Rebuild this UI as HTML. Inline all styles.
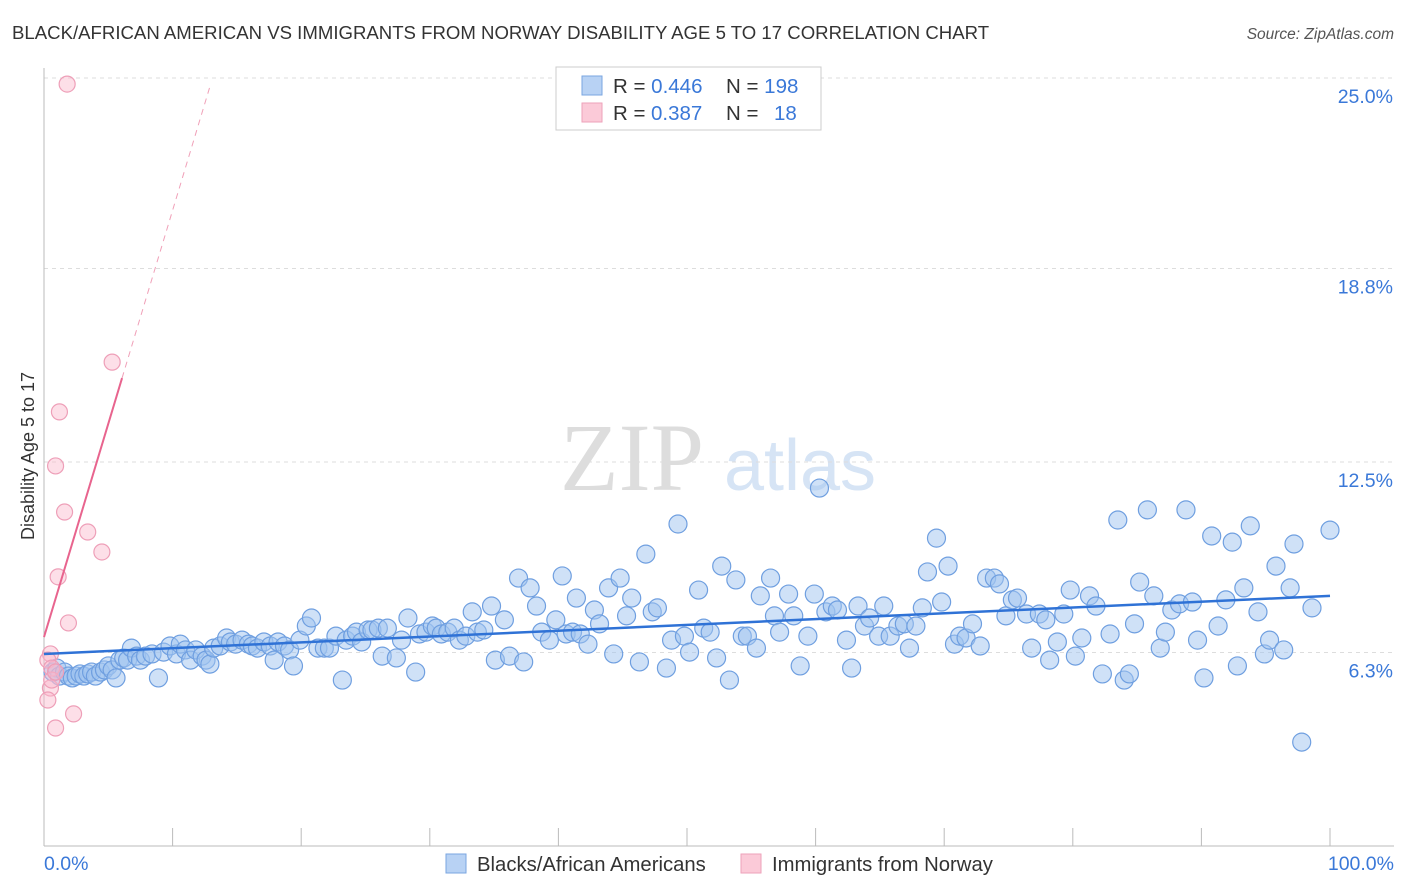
<!DOCTYPE html>
<html><head><meta charset="utf-8"><style>
body{margin:0;background:#fff;font-family:"Liberation Sans",sans-serif;}
svg{display:block}
</style></head><body>
<svg id="chart" width="1406" height="892" xmlns="http://www.w3.org/2000/svg">
<text x="12" y="39" font-size="18.6" fill="#333">BLACK/AFRICAN AMERICAN VS IMMIGRANTS FROM NORWAY DISABILITY AGE 5 TO 17 CORRELATION CHART</text>
<text x="1394" y="39" font-size="15.5" fill="#555" font-style="italic" text-anchor="end">Source: ZipAtlas.com</text>
<g>
<text x="632" y="490" font-size="96" font-family="Liberation Serif,serif" fill="#ddd" text-anchor="middle">ZIP</text>
<text x="800" y="490" font-size="72" fill="#d6e4f5" text-anchor="middle">atlas</text>
</g>
<g id="grid"></g>
<g id="axes"></g>
<g id="pts"></g>
<g id="lines"></g>
<text transform="translate(34,456) rotate(-90)" font-size="18" fill="#333" text-anchor="middle">Disability Age 5 to 17</text>
<text x="44" y="870" font-size="19.5" fill="#3a78d8">0.0%</text>
<text x="1394" y="870" font-size="19.5" fill="#3a78d8" text-anchor="end">100.0%</text>
<g>
<rect x="556" y="67" width="265" height="63" fill="#fff" stroke="#ccc"/>
<rect x="582" y="76" width="20" height="19" fill="#b8d2f4" stroke="#7aa6e0"/>
<rect x="582" y="103" width="20" height="19" fill="#fbcad8" stroke="#eea2ba"/>
<text x="613" y="93" font-size="20.5" fill="#333">R = <tspan fill="#3a78d8">0.446</tspan></text>
<text x="726" y="93" font-size="20.5" fill="#333">N = <tspan fill="#3a78d8">198</tspan></text>
<text x="613" y="120" font-size="20.5" fill="#333">R = <tspan fill="#3a78d8" x="651">0.387</tspan></text>
<text x="726" y="120" font-size="20.5" fill="#333">N = <tspan fill="#3a78d8" x="774">18</tspan></text>
</g>
<g>
<rect x="446" y="854" width="20" height="19" fill="#b8d2f4" stroke="#7aa6e0"/>
<text x="477" y="871" font-size="20.3" fill="#333">Blacks/African Americans</text>
<rect x="741" y="854" width="20" height="19" fill="#fbcad8" stroke="#eea2ba"/>
<text x="772" y="871" font-size="20.3" fill="#333">Immigrants from Norway</text>
</g>
</svg>
<script>
const yTicks=[6.3,12.5,18.8,25.0];
const xTicks=[0,10,20,30,40,50,60,70,80,90,100];
const blueX=[0.7,1.0,1.2,1.6,1.9,2.2,2.5,2.8,3.1,3.4,3.7,4.0,4.4,4.7,5.0,5.3,5.6,5.9,6.2,6.5,6.8,7.2,7.5,7.9,8.4,8.9,9.3,9.8,10.3,10.6,11.0,11.4,11.8,12.3,12.6,12.9,13.2,13.7,14.2,14.5,14.9,15.4,15.9,16.2,16.6,17.1,17.6,17.9,18.2,18.7,19.1,19.4,19.9,20.4,20.8,21.3,21.8,22.2,22.7,23.2,23.5,24.0,24.3,24.7,25.2,25.5,26.0,26.3,26.7,27.4,27.8,28.3,28.9,29.2,29.7,30.2,30.5,30.9,31.4,31.9,32.3,32.8,33.3,33.7,34.2,34.8,35.1,35.8,36.2,36.9,37.3,37.8,38.3,38.7,39.3,39.8,40.3,40.6,41.1,41.4,41.7,42.3,42.8,43.2,43.9,44.3,44.8,45.3,45.7,46.3,46.8,47.3,47.7,48.4,48.8,49.3,49.8,50.2,50.9,51.3,51.8,52.3,52.7,53.3,53.8,54.3,54.7,55.4,55.7,56.5,56.8,57.2,57.9,58.3,58.8,59.4,59.9,60.3,60.8,61.3,61.7,62.4,62.8,63.3,63.8,64.2,64.9,65.3,65.8,66.4,66.9,67.3,67.8,68.3,68.7,69.4,69.8,70.3,70.8,71.2,71.7,72.2,72.8,73.3,73.9,74.3,74.8,75.3,75.7,76.4,76.8,77.4,77.9,78.2,78.8,79.3,79.8,80.2,80.7,81.3,81.8,82.3,82.9,83.5,84.0,84.4,84.8,85.2,85.8,86.3,86.8,87.2,87.7,88.3,88.8,89.3,89.7,90.2,90.8,91.3,91.9,92.4,92.8,93.3,93.8,94.4,94.9,95.3,95.8,96.4,96.9,97.2,97.8,98.6,100.0];
const blueY=[6.28,6.41,6.15,6.28,6.15,6.09,6.15,6.22,6.15,6.22,6.28,6.15,6.28,6.35,6.48,6.35,6.09,6.67,6.74,6.67,7.06,6.80,6.67,6.80,6.87,6.09,6.93,7.13,6.87,7.19,7.00,6.67,7.00,6.80,6.67,6.54,7.06,7.13,7.39,7.26,7.19,7.32,7.19,7.13,7.06,7.26,7.13,6.67,7.26,7.13,7.00,6.48,7.32,7.78,8.04,7.06,7.06,7.06,7.45,6.02,7.32,7.45,7.58,7.26,7.65,7.65,7.71,6.80,7.71,6.74,7.32,8.04,6.28,7.52,7.58,7.78,7.71,7.52,7.58,7.71,7.32,7.45,8.24,7.58,7.65,8.43,6.67,7.98,6.80,9.34,6.61,9.02,8.43,7.58,7.32,7.98,9.41,7.52,7.58,8.69,7.52,7.19,8.30,7.85,9.02,6.87,9.34,8.11,8.69,6.61,10.12,8.24,8.37,6.41,7.32,11.10,7.45,6.93,8.95,7.71,7.58,6.74,9.73,6.02,9.28,7.45,7.45,7.06,8.76,9.34,8.11,7.58,8.82,8.11,6.48,7.45,8.82,12.27,8.24,8.43,8.30,7.32,6.41,8.43,7.78,8.04,7.45,8.43,7.45,7.78,7.85,7.06,7.78,8.37,9.54,10.64,8.56,9.73,7.19,7.45,7.39,7.85,7.13,9.34,9.34,9.15,8.11,8.63,8.69,8.17,7.06,8.17,7.98,6.67,7.26,8.17,8.95,6.80,7.39,8.76,8.43,6.22,7.52,11.23,6.02,6.22,7.85,9.21,11.56,8.76,7.06,7.58,8.30,8.50,11.56,8.56,7.32,6.09,10.71,7.78,8.63,10.51,6.48,9.02,11.04,8.24,6.87,7.32,9.73,7.00,9.02,10.45,4.00,8.37,10.90];
const pinkX=[0.5,0.3,0.6,0.5,0.3,0.9,2.3,1.9,1.1,0.9,1.2,1.6,3.4,4.5,5.3,1.8,0.6,0.9];
const pinkY=[6.87,6.67,6.41,5.76,5.37,4.46,4.92,7.88,9.38,12.99,14.75,11.49,10.84,10.19,16.37,25.42,6.02,6.28];
const blueFit=[6.87,0.0189];   // intercept, slope
const pinkFit=[7.42,1.389];
const pinkSolidEnd=6.07, pinkDashEnd=12.9;

const NS="http://www.w3.org/2000/svg";
const xs=v=>44+v*12.86;
const ys=v=>865-v*30.72;
function mk(tag,attrs,parent){const e=document.createElementNS(NS,tag);for(const k in attrs)e.setAttribute(k,attrs[k]);document.getElementById(parent).appendChild(e);return e;}

yTicks.forEach((t,i)=>{
  const g=mk('line',{x1:44,x2:1394,y1:ys(t)-19,y2:ys(t)-19,stroke:'#ddd','stroke-dasharray':'4,4'},'grid');
  
  
  const l=mk('text',{x:1393,y:ys(t)+6,'font-size':19.5,fill:'#3a78d8','text-anchor':'end'},'grid');
  l.textContent=t.toFixed(1)+'%';
  
  
});
const ax=mk('line',{x1:44,x2:44,y1:68,y2:846,stroke:'#bbb'},'axes');


const bx=mk('line',{x1:44,x2:1394,y1:846,y2:846,stroke:'#bbb'},'axes');


xTicks.forEach(t=>{
  const tk=mk('line',{x1:xs(t),x2:xs(t),y1:828,y2:846,stroke:'#bbb'},'axes');
  
  
});
blueX.forEach((x,i)=>{
  const c=mk('circle',{cx:xs(x),cy:ys(blueY[i]),r:9,fill:'rgba(160,196,240,0.5)',stroke:'#6f9fe0','stroke-width':1.2},'pts');
  
  
});
pinkX.forEach((x,i)=>{
  const c=mk('circle',{cx:xs(x),cy:ys(pinkY[i]),r:8,fill:'rgba(250,185,205,0.45)',stroke:'#ee9fb8','stroke-width':1.2},'pts');
  
  
});
const bl=mk('line',{x1:xs(0),y1:ys(blueFit[0]),x2:xs(100),y2:ys(blueFit[0]+blueFit[1]*100),stroke:'#2f72d6','stroke-width':2.5},'lines');


const pl=mk('line',{x1:xs(0),y1:ys(pinkFit[0]),x2:xs(pinkSolidEnd),y2:ys(pinkFit[0]+pinkFit[1]*pinkSolidEnd),stroke:'#e8648e','stroke-width':2},'lines');


const pd=mk('line',{x1:xs(pinkSolidEnd),y1:ys(pinkFit[0]+pinkFit[1]*pinkSolidEnd),x2:xs(pinkDashEnd),y2:ys(pinkFit[0]+pinkFit[1]*pinkDashEnd),stroke:'#f0a0b8','stroke-width':1,'stroke-dasharray':'6,5'},'lines');


</script>
</body></html>
